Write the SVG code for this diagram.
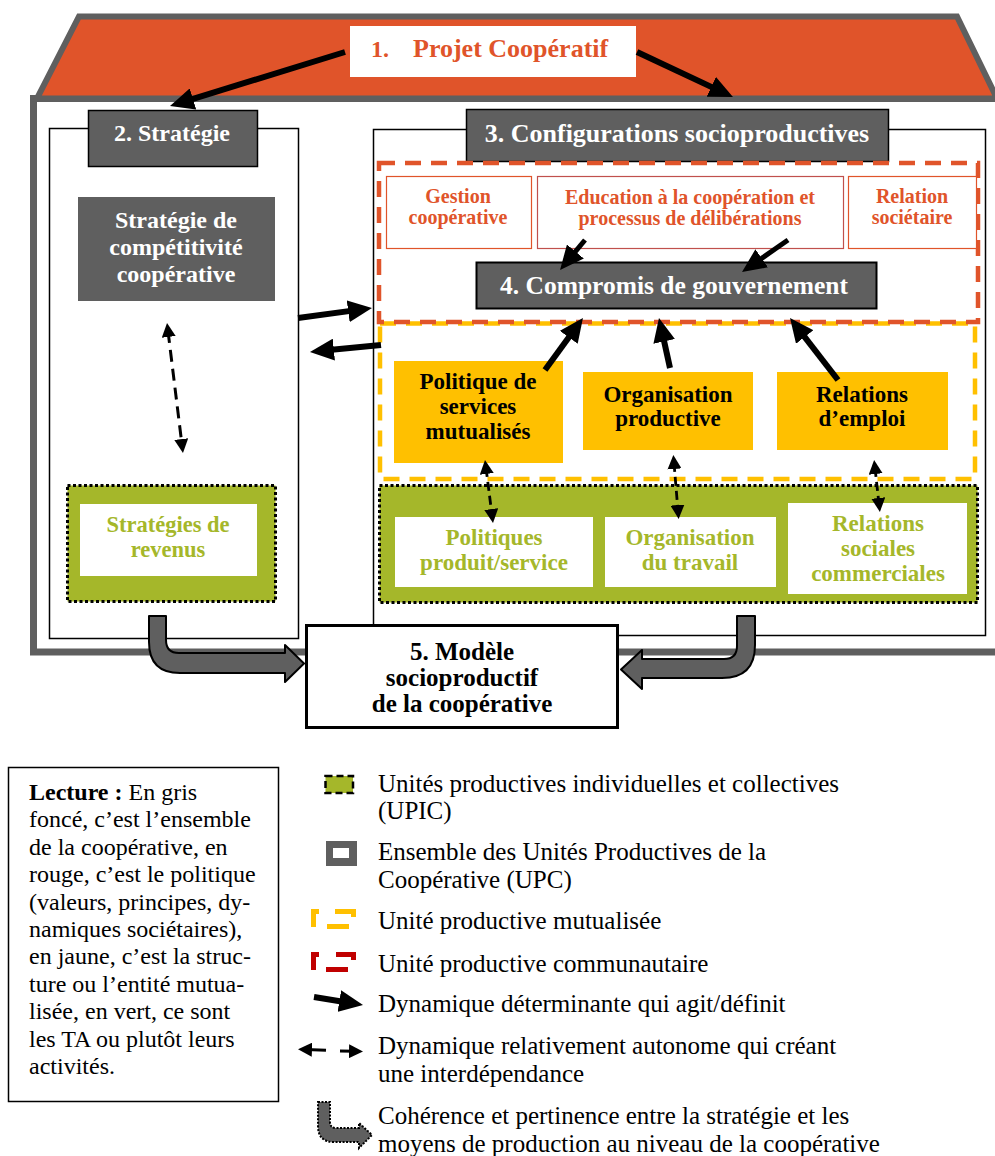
<svg xmlns="http://www.w3.org/2000/svg" width="995" height="1156" viewBox="0 0 995 1156">
<defs>
<style>
.t{font-family:"Liberation Serif","Times New Roman",serif;}
.b{font-weight:bold;}
.w{fill:#ffffff;}
.k{fill:#000000;}
.o{fill:#E0542A;}
.g{fill:#A5B72A;}
.gray{fill:#5F5F5F;}
.mid{text-anchor:middle;}
.lg{font-size:25px;}
.arr{stroke:#000;stroke-width:6;fill:none;marker-end:url(#ah);}
.arr5{stroke:#000;stroke-width:5;fill:none;marker-end:url(#ah);}
.dsh{stroke:#000;stroke-width:3;fill:none;stroke-dasharray:12 7;marker-start:url(#ahs);marker-end:url(#ahs);}
.dshs{stroke:#000;stroke-width:2.8;fill:none;stroke-dasharray:9 5;marker-start:url(#ahs);marker-end:url(#ahs);}
.fat{fill:#5F5F5F;stroke:#000;stroke-width:2;stroke-linejoin:round;}
.dot{stroke:#000;stroke-width:3;stroke-dasharray:3 2.5;}
</style>
<marker id="ah" markerUnits="userSpaceOnUse" markerWidth="24" markerHeight="22" viewBox="0 0 24 22" refX="10" refY="11" orient="auto"><path d="M0,0 L24,11 L0,22 z" fill="#000"/></marker>
<marker id="ahs" markerUnits="userSpaceOnUse" markerWidth="14" markerHeight="14" viewBox="0 0 14 14" refX="6" refY="7" orient="auto-start-reverse"><path d="M0,0 L14,7 L0,14 z" fill="#000"/></marker>
</defs>
<rect width="995" height="1156" fill="#ffffff"/>

<!-- House body -->
<g id="node-cooperative">
<rect x="33.5" y="98.5" width="1000" height="553.5" fill="#ffffff" stroke="#5F5F5F" stroke-width="7"/>
</g>
<!-- Roof -->
<g id="node-roof">
<polygon points="79,16.5 957,16.5 997,98.5 37,98.5" fill="#E0542A" stroke="#5F5F5F" stroke-width="6" stroke-linejoin="miter"/>
</g>
<g id="node-projet">
<rect x="350" y="26" width="286" height="51" fill="#ffffff"/>
<text class="t b o" x="371" y="57" font-size="24">1.</text>
<text class="t b o" x="413" y="57" font-size="26">Projet Coopératif</text>
</g>

<!-- Left column: Strategy -->
<g id="node-strategie-cadre">
<rect x="49.5" y="128.5" width="249" height="510" fill="#ffffff" stroke="#000" stroke-width="1.5"/>
</g>
<g id="node-strategie">
<rect x="88.5" y="110.5" width="169" height="56" class="gray" stroke="#000" stroke-width="1.5"/>
<text class="t b w mid" x="172" y="141" font-size="24">2. Stratégie</text>
</g>
<g id="node-competitivite">
<rect x="78" y="197" width="197" height="104" class="gray"/>
<text class="t b w mid" x="176" y="228" font-size="24">Stratégie de</text>
<text class="t b w mid" x="176" y="255" font-size="24">compétitivité</text>
<text class="t b w mid" x="176" y="282" font-size="24">coopérative</text>
</g>
<g id="node-revenus">
<rect x="67.5" y="485.5" width="208" height="116" class="g dot"/>
<rect x="80" y="504" width="177" height="72" fill="#ffffff"/>
<text class="t b g mid" x="168" y="532" font-size="22.5">Stratégies de</text>
<text class="t b g mid" x="168" y="557" font-size="22.5">revenus</text>
</g>

<!-- Right column: Configurations -->
<g id="node-configurations-cadre">
<rect x="373.5" y="129.5" width="612" height="506" fill="#ffffff" stroke="#000" stroke-width="1.5"/>
</g>
<g id="node-configurations">
<rect x="466.5" y="109.5" width="422" height="52" class="gray" stroke="#000" stroke-width="1.5"/>
<text class="t b w mid" x="677" y="142" font-size="26">3. Configurations socioproductives</text>
</g>
<g id="node-mutualisee">
<rect x="380" y="323.5" width="595" height="155.5" fill="none" stroke="#FFC000" stroke-width="4.5" stroke-dasharray="16 10"/>
</g>
<g id="node-communautaire">
<rect x="379" y="163" width="599" height="159" fill="none" stroke="#E0542A" stroke-width="4.5" stroke-dasharray="16 10"/>
</g>
<g id="node-gestion">
<rect x="386.5" y="176.5" width="145" height="72" fill="#ffffff" stroke="#E0542A" stroke-width="1.2"/>
<text class="t b o mid" x="458" y="203" font-size="20">Gestion</text>
<text class="t b o mid" x="458" y="224" font-size="20">coopérative</text>
</g>
<g id="node-education">
<rect x="537.5" y="176.5" width="306" height="72" fill="#ffffff" stroke="#C0504D" stroke-width="1.2"/>
<text class="t b o mid" x="690" y="204" font-size="20">Education à la coopération et</text>
<text class="t b o mid" x="690" y="225" font-size="20">processus de délibérations</text>
</g>
<g id="node-relation-societaire">
<rect x="848.5" y="176.5" width="128" height="72" fill="#ffffff" stroke="#E0542A" stroke-width="1.2"/>
<text class="t b o mid" x="912" y="203" font-size="20">Relation</text>
<text class="t b o mid" x="912" y="224" font-size="20">sociétaire</text>
</g>
<g id="node-compromis">
<rect x="476.5" y="262.5" width="400" height="46" class="gray" stroke="#000" stroke-width="2"/>
<text class="t b w mid" x="674" y="294" font-size="25.5">4. Compromis de gouvernement</text>
</g>
<g id="node-politique-services">
<rect x="394" y="361" width="169" height="102" fill="#FFC000"/>
<text class="t b k mid" x="478" y="389" font-size="23">Politique de</text>
<text class="t b k mid" x="478" y="414" font-size="23">services</text>
<text class="t b k mid" x="478" y="439" font-size="23">mutualisés</text>
</g>
<g id="node-organisation-productive">
<rect x="583" y="372" width="170" height="78" fill="#FFC000"/>
<text class="t b k mid" x="668" y="402" font-size="23">Organisation</text>
<text class="t b k mid" x="668" y="426" font-size="23">productive</text>
</g>
<g id="node-relations-emploi">
<rect x="777" y="372" width="171" height="78" fill="#FFC000"/>
<text class="t b k mid" x="862" y="402" font-size="23">Relations</text>
<text class="t b k mid" x="862" y="426" font-size="23">d’emploi</text>
</g>
<g id="node-upic">
<rect x="379.5" y="485.5" width="598" height="117" class="g dot"/>
</g>
<g id="node-politiques-produit">
<rect x="395" y="517" width="198" height="70" fill="#ffffff"/>
<text class="t b g mid" x="494" y="545" font-size="23">Politiques</text>
<text class="t b g mid" x="494" y="570" font-size="23">produit/service</text>
</g>
<g id="node-organisation-travail">
<rect x="605" y="517" width="171" height="70" fill="#ffffff"/>
<text class="t b g mid" x="690" y="545" font-size="23">Organisation</text>
<text class="t b g mid" x="690" y="570" font-size="23">du travail</text>
</g>
<g id="node-relations-sociales">
<rect x="788" y="503" width="179" height="91" fill="#ffffff"/>
<text class="t b g mid" x="878" y="531" font-size="23">Relations</text>
<text class="t b g mid" x="878" y="556" font-size="23">sociales</text>
<text class="t b g mid" x="878" y="581" font-size="23">commerciales</text>
</g>

<!-- Connectors -->
<g id="connectors">
<line class="arr" x1="345" y1="52" x2="183.4" y2="101.9"/>
<line class="arr" x1="637" y1="52" x2="720.3" y2="91.1"/>
<line class="arr" x1="298" y1="318" x2="358.1" y2="309.9"/>
<line class="arr" x1="381" y1="345" x2="323.9" y2="350.6"/>
<line class="arr5" x1="585" y1="240" x2="569" y2="259.2"/>
<line class="arr5" x1="788" y1="240" x2="753.5" y2="264"/>
<line class="arr" x1="545" y1="370" x2="574.7" y2="329.3"/>
<line class="arr" x1="670" y1="368" x2="662" y2="331.7"/>
<line class="arr" x1="838" y1="380" x2="798.6" y2="329.1"/>
<line class="dsh" x1="168" y1="331" x2="182" y2="445"/>
<line class="dshs" x1="486" y1="468" x2="492" y2="515"/>
<line class="dshs" x1="674" y1="463" x2="678" y2="511"/>
<line class="dshs" x1="875" y1="468" x2="879" y2="504"/>
<path class="fat" d="M149,616 L166,616 L166,640 Q166,653 179,653 L285,653 L285,645 L304,663.5 L285,682 L285,673 L180,673 Q149,673 149,642 Z"/>
<path class="fat" d="M737,616 L755,616 L755,645 Q755,678 722,678 L642,678 L642,689 L621,669.5 L642,650 L642,659 L724,659 Q737,659 737,646 Z"/>
</g>

<g id="node-modele">
<rect x="306.5" y="625.5" width="311" height="102" fill="#ffffff" stroke="#000" stroke-width="3"/>
<text class="t b k mid" x="462" y="660" font-size="25">5. Modèle</text>
<text class="t b k mid" x="462" y="686" font-size="25">socioproductif</text>
<text class="t b k mid" x="462" y="712" font-size="25">de la coopérative</text>
</g>

<!-- Reading note -->
<g id="lecture">
<rect x="8.5" y="767.5" width="270" height="334" fill="#ffffff" stroke="#000" stroke-width="1.5"/>
<text class="t k" x="29" y="800" font-size="24"><tspan font-weight="bold">Lecture :</tspan> En gris</text>
<text class="t k" x="29" y="827.4" font-size="24">foncé, c’est l’ensemble</text>
<text class="t k" x="29" y="854.8" font-size="24">de la coopérative, en</text>
<text class="t k" x="29" y="882.2" font-size="24">rouge, c’est le politique</text>
<text class="t k" x="29" y="909.6" font-size="24">(valeurs, principes, dy-</text>
<text class="t k" x="29" y="937" font-size="24">namiques sociétaires),</text>
<text class="t k" x="29" y="964.4" font-size="24">en jaune, c’est la struc-</text>
<text class="t k" x="29" y="991.8" font-size="24">ture ou l’entité mutua-</text>
<text class="t k" x="29" y="1019.2" font-size="24">lisée, en vert, ce sont</text>
<text class="t k" x="29" y="1046.6" font-size="24">les TA ou plutôt leurs</text>
<text class="t k" x="29" y="1074" font-size="24">activités.</text>
</g>

<!-- Legend -->
<g id="legend">
<rect x="325.5" y="776" width="27.5" height="17" fill="#A5B72A" stroke="#000" stroke-width="2.5" stroke-dasharray="7 4"/>
<text class="t k lg" x="378" y="792">Unités productives individuelles et collectives</text>
<text class="t k lg" x="378" y="819">(UPIC)</text>
<rect x="326" y="841" width="31" height="25" fill="#5F5F5F"/>
<rect x="333" y="848" width="16" height="10" fill="#ffffff"/>
<text class="t k lg" x="378" y="860">Ensemble des Unités Productives de la</text>
<text class="t k lg" x="378" y="888">Coopérative (UPC)</text>
<g fill="#FFC000">
<rect x="311" y="909" width="5" height="18"/>
<rect x="311" y="909" width="8" height="5"/>
<rect x="335" y="909" width="21" height="5"/>
<rect x="351" y="909" width="5" height="8"/>
<rect x="327" y="924" width="22" height="5"/>
</g>
<text class="t k lg" x="378" y="929">Unité productive mutualisée</text>
<g fill="#C00000">
<rect x="311" y="952" width="5" height="18"/>
<rect x="311" y="952" width="8" height="5"/>
<rect x="336" y="952" width="20" height="5"/>
<rect x="351" y="952" width="5" height="8"/>
<rect x="326" y="967" width="22" height="5"/>
</g>
<text class="t k lg" x="378" y="972">Unité productive communautaire</text>
<line class="arr" x1="314" y1="997" x2="349.2" y2="1002.7"/>
<text class="t k lg" x="378" y="1012">Dynamique déterminante qui agit/définit</text>
<line x1="306" y1="1049.5" x2="326" y2="1050.3" stroke="#000" stroke-width="3" marker-start="url(#ahs)"/>
<line x1="340" y1="1051" x2="355" y2="1051.3" stroke="#000" stroke-width="3" marker-end="url(#ahs)"/>
<text class="t k lg" x="378" y="1054">Dynamique relativement autonome qui créant</text>
<text class="t k lg" x="378" y="1082">une interdépendance</text>
<path d="M318,1102 L330,1102 L330,1122 Q330,1128 336,1128 L359,1128 L359,1123 L372,1135 L359,1148 L359,1142 L334,1142 Q318,1142 318,1126 Z" fill="#5F5F5F" stroke="#000" stroke-width="2" stroke-dasharray="2 1.5"/>
<text class="t k lg" x="378" y="1124">Cohérence et pertinence entre la stratégie et les</text>
<text class="t k lg" x="378" y="1152">moyens de production au niveau de la coopérative</text>
</g>
</svg>
